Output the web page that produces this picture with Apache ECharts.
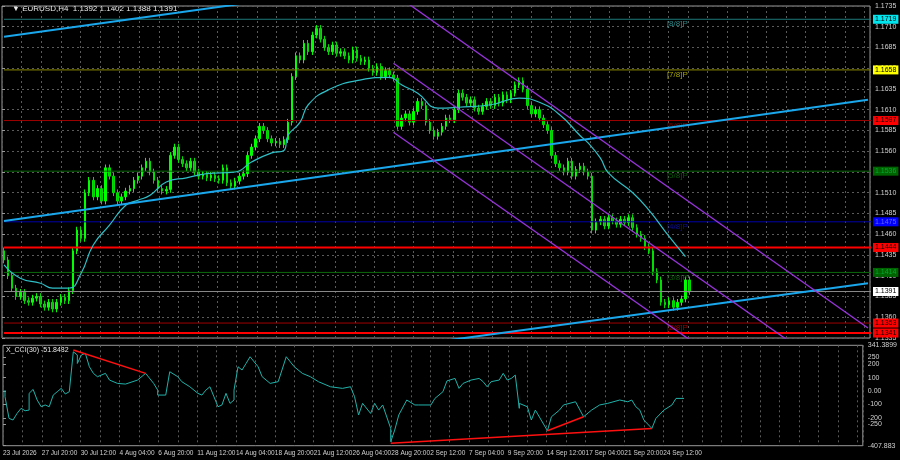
<!DOCTYPE html>
<html><head><meta charset="utf-8">
<script src="https://cdn.jsdelivr.net/npm/echarts@6/dist/echarts.min.js"></script>
<style>html,body{margin:0;padding:0;background:#000}#c{width:900px;height:460px}</style>
</head><body><div id="c"></div>
<script>
const closes=[1.1429,1.1410,1.1395,1.1385,1.1390,1.1380,1.1378,1.1383,1.1385,1.1376,1.1372,1.1378,1.1370,1.1378,1.1384,1.1380,1.1392,1.1440,1.1465,1.1455,1.1510,1.1525,1.1505,1.1515,1.1500,1.1540,1.1530,1.1510,1.1500,1.1505,1.1512,1.1515,1.1525,1.1530,1.1540,1.1548,1.1535,1.1525,1.1515,1.1512,1.1514,1.1555,1.1565,1.1550,1.1545,1.1540,1.1548,1.1535,1.1530,1.1532,1.1528,1.1531,1.1527,1.1525,1.1540,1.1522,1.1518,1.1524,1.1530,1.1533,1.1555,1.1565,1.1575,1.1590,1.1585,1.1575,1.1570,1.1572,1.1568,1.1574,1.1595,1.1650,1.1675,1.1670,1.1690,1.1680,1.1700,1.1708,1.1695,1.1685,1.1680,1.1688,1.1678,1.1680,1.1675,1.1670,1.1682,1.1672,1.1668,1.1670,1.1660,1.1655,1.1662,1.1650,1.1657,1.1652,1.1648,1.1590,1.1600,1.1605,1.1595,1.1608,1.1620,1.1615,1.1595,1.1585,1.1578,1.1583,1.1590,1.1600,1.1598,1.1610,1.1630,1.1625,1.1618,1.1622,1.1612,1.1608,1.1614,1.1620,1.1615,1.1625,1.1618,1.1628,1.1622,1.1630,1.1640,1.1645,1.1635,1.1615,1.1605,1.1610,1.1600,1.1592,1.1585,1.1555,1.1545,1.1540,1.1535,1.1548,1.1530,1.1538,1.1542,1.1535,1.1530,1.1465,1.1475,1.1478,1.1470,1.1480,1.1476,1.1472,1.1478,1.1474,1.1480,1.1468,1.1460,1.1455,1.1445,1.1440,1.1415,1.1405,1.1378,1.1375,1.1380,1.1372,1.1378,1.1382,1.1405,1.1391];
const firstOpen=1.1440;
const maIdx=[0,4,9,12,15.5,19,22,26,30,33,36,40,45,50,57,61,66,69,70,73,75,80,88,95,98,102,107,112,120,127,132,137,142,144,147,149,155,159,164,168];
const maVal=[1.1423,1.1407,1.1401,1.1395,1.1395,1.1413,1.1447,1.1471,1.1495,1.1501,1.1507,1.1523,1.1528,1.1533,1.1535,1.1547,1.1558,1.1561,1.1579,1.1595,1.1616,1.1634,1.1646,1.1649,1.1640,1.1630,1.1612,1.1613,1.1616,1.1624,1.1619,1.1604,1.1579,1.1570,1.1552,1.1534,1.1510,1.1489,1.1457,1.1433];
const cciIdx=[0,0.3,1.1,1.9,3.1,3.9,4.8,5.6,6.4,7.2,8.1,8.9,9.7,11.3,12.1,13.4,14.2,15,15.8,16.7,17.5,18.3,19.1,20,21.2,22.4,23.2,24.5,26.1,27.8,30.2,32.7,35.1,36.8,37.6,38.4,40.1,40.9,42.5,44.2,45.8,47.5,49.1,49.9,51.2,52,52.8,54,54.9,55.7,56.5,57.3,58.1,59,59.8,61.4,62.6,63.9,65.5,68,69.6,70.4,72.1,73.7,76.2,77.8,81.1,83.6,85.6,86.9,88.1,89.3,90.6,91.8,93,94.3,95.5,96.3,97.1,98.3,100,101.7,103.3,105.7,107.4,109,109.9,112.3,113.1,114.4,116.4,117.7,118.5,120.1,121,123,123.8,125,125.9,126.7,127.5,128.3,130.4,131.4,132,134.5,135.7,137.8,139.4,142.3,143.9,146,148.4,150.1,152.5,153.4,154.6,155.8,157.1,158.3,159.1,160.8,162.4,163.6,165.7,167.3,168.5];
const cciVal=[7,-42,-204,-216,-167,-129,-147,-142,-17,12,-67,-117,-104,-117,-30,-5,20,-22,-5,293,269,206,269,281,181,132,107,132,82,57,52,82,132,57,7,-30,-30,144,107,70,32,-17,-30,7,32,-42,-117,-104,-17,-92,-67,7,181,157,206,256,181,107,57,70,256,256,181,132,107,70,32,20,32,-42,-179,-92,-167,-92,-142,-104,-279,-378,-291,-179,-67,-104,-104,-104,-55,-5,76,94,20,57,82,94,70,32,70,82,132,82,94,119,-129,-92,-117,-216,-142,-296,-192,-142,-104,-80,-192,-142,-104,-92,-67,-55,-80,-67,-117,-142,-216,-279,-204,-142,-104,-55,-55];
const dateLabels=['23 Jul 2026','27 Jul 20:00','30 Jul 12:00','4 Aug 04:00','6 Aug 20:00','11 Aug 12:00','14 Aug 04:00','18 Aug 20:00','21 Aug 12:00','26 Aug 04:00','28 Aug 20:00','2 Sep 12:00','7 Sep 04:00','9 Sep 20:00','14 Sep 12:00','17 Sep 04:00','21 Sep 20:00','24 Sep 12:00'];
const cciTicks=[-407.883,-250,-200,-100,0,100,200,250,341.3899];
// levels: price, line color, box color, box text color, width, murrey label, label color
const levels=[
 [1.1719,'#1f7a7a','#00e5ee','#000',1,'[8/8]P','#38a8a8'],
 [1.1658,'#8a8a00','#ffff00','#000',1,'[7/8]P','#c8c800'],
 [1.1597,'#a00000','#ff0000','#000',1,'[6/8]P','#a00000'],
 [1.1536,'#0a6a0a','#006400','#0a3',1,'[5/8]P','#0a6a0a'],
 [1.1475,'#0000a8','#0000ff','#66f',1,'[4/8]P','#1010c0'],
 [1.1444,'#ff0000','#ff0000','#000',2,'',''],
 [1.1414,'#0a6a0a','#006400','#0a3',1,'[3/8]P','#0a6a0a'],
 [1.1391,'#8a8a8a','#ffffff','#000',1,'',''],
 [1.1353,'#a00000','#ff0000','#000',1,'[2/8]P','#c00000'],
 [1.1341,'#ff0000','#ff0000','#000',2,'','']
];
const cyanLines=[[[0,1.1698],[62,1.1740]],[[0,1.1476],[213,1.1622]],[[106,1.1330],[213,1.1401]]];
const purpleLines=[[[99,1.1740],[213,1.1347]],[[96.3,1.1666],[193,1.1333]],[[96.3,1.1583],[168.7,1.1333]]];
const cciRed=[[[16.7,306],[35.1,132]],[[96.3,-390],[160.8,-279]],[[134.5,-296],[143.9,-192]]];

const FONT='Liberation Sans';
const NCAT=214;
const cats=[];for(let i=0;i<NCAT;i++)cats.push(String(i));
const candles=closes.map((c,i)=>{const o=i?closes[i-1]:firstOpen;return [o,c,Math.min(o,c)-0.0004,Math.max(o,c)+0.0004];});
const pair=(a,b)=>a.map((x,i)=>[x,b[i]]);
const split={show:true,lineStyle:{color:'#5a5a5a',type:[2,3],width:1}};
const series=[];
levels.forEach(l=>{
 series.push({type:'line',xAxisIndex:0,yAxisIndex:0,data:[[-0.5,l[0]],[213.5,l[0]]],showSymbol:false,animation:false,silent:true,
  lineStyle:{color:l[1],width:l[4]},
  endLabel:{show:true,formatter:l[0].toFixed(4),backgroundColor:l[2],color:l[3],fontSize:7,padding:[1,2],distance:2,fontFamily:FONT}});
 if(l[5]) series.push({type:'scatter',xAxisIndex:0,yAxisIndex:0,data:[[166,l[0]]],symbolSize:0,silent:true,animation:false,
  label:{show:true,position:'bottom',distance:1,formatter:l[5],color:l[6],fontSize:8,fontFamily:FONT}});
});
series.push({type:'candlestick',xAxisIndex:0,yAxisIndex:0,data:candles,barMaxWidth:2.2,animation:false,
 itemStyle:{color:'#00ff00',color0:'#00c000',borderColor:'#00ff00',borderColor0:'#00dd00',borderWidth:1}});
series.push({type:'line',xAxisIndex:0,yAxisIndex:0,data:pair(maIdx,maVal),showSymbol:false,smooth:true,lineStyle:{color:'#2fc0c8',width:1.2},animation:false});
cyanLines.forEach(d=>series.push({type:'line',xAxisIndex:0,yAxisIndex:0,data:d,showSymbol:false,lineStyle:{color:'#1aa7ec',width:2},animation:false}));
purpleLines.forEach(d=>series.push({type:'line',xAxisIndex:0,yAxisIndex:0,data:d,showSymbol:false,lineStyle:{color:'#9933dd',width:1.3},animation:false}));
series.push({type:'line',xAxisIndex:1,yAxisIndex:1,data:pair(cciIdx,cciVal),showSymbol:false,lineStyle:{color:'#20b2aa',width:1},animation:false});
cciRed.forEach(d=>series.push({type:'line',xAxisIndex:1,yAxisIndex:1,data:d,showSymbol:false,lineStyle:{color:'#ff1010',width:1.5},animation:false}));

const chart=echarts.init(document.getElementById('c'));
chart.setOption({
 backgroundColor:'#000',animation:false,
 textStyle:{fontFamily:FONT},
 grid:[{left:2,right:30,top:6,height:332,show:true,borderColor:'#999',borderWidth:1,backgroundColor:'transparent'},
       {left:2,right:30,top:345.3,height:100.4,show:true,borderColor:'#999',borderWidth:1}],
 xAxis:[
  {type:'category',gridIndex:0,data:cats,boundaryGap:true,show:false},
  {type:'category',gridIndex:1,data:cats,boundaryGap:true,show:false},
  {type:'value',gridIndex:0,position:'bottom',min:0,max:22.14,interval:0.5,axisLine:{show:false,onZero:false},axisTick:{show:false},axisLabel:{show:false},splitLine:split},
  {type:'value',gridIndex:1,position:'bottom',min:0,max:22.14,interval:0.5,axisLine:{show:false,onZero:false},axisTick:{show:false},splitLine:split,
   axisLabel:{color:'#d0d0d0',fontSize:6.5,fontFamily:FONT,align:'left',margin:4,showMaxLabel:false,hideOverlap:false,formatter:v=>Number.isInteger(v)?(dateLabels[v]||''):''}}
 ],
 yAxis:[
  {type:'value',gridIndex:0,position:'right',min:1.1335,max:1.1735,interval:0.0025,axisLine:{show:false},axisTick:{show:true,length:3,lineStyle:{color:'#999'}},
   axisLabel:{color:'#d0d0d0',fontSize:7,fontFamily:FONT,margin:5,formatter:v=>v.toFixed(4)},splitLine:split},
  {type:'value',gridIndex:1,position:'right',min:-407.883,max:341.3899,axisLine:{show:false},
   axisTick:{show:true,length:3,customValues:cciTicks,lineStyle:{color:'#999'}},
   axisLabel:{color:'#d0d0d0',fontSize:7,fontFamily:FONT,margin:5,customValues:cciTicks,formatter:v=>v===0?'0.00':String(v)},
   splitLine:{show:false}}
 ],
 graphic:[
  {type:'text',left:12,top:5,style:{text:'▼ EURUSD,H4  1.1392 1.1402 1.1388 1.1391',fill:'#e8e8e8',fontSize:8,fontFamily:FONT}},
  {type:'text',left:6,top:347,style:{text:'X_CCI(30) -51.8482',fill:'#e8e8e8',fontSize:7,fontFamily:FONT}}
 ],
 series:series
});
</script></body></html>
